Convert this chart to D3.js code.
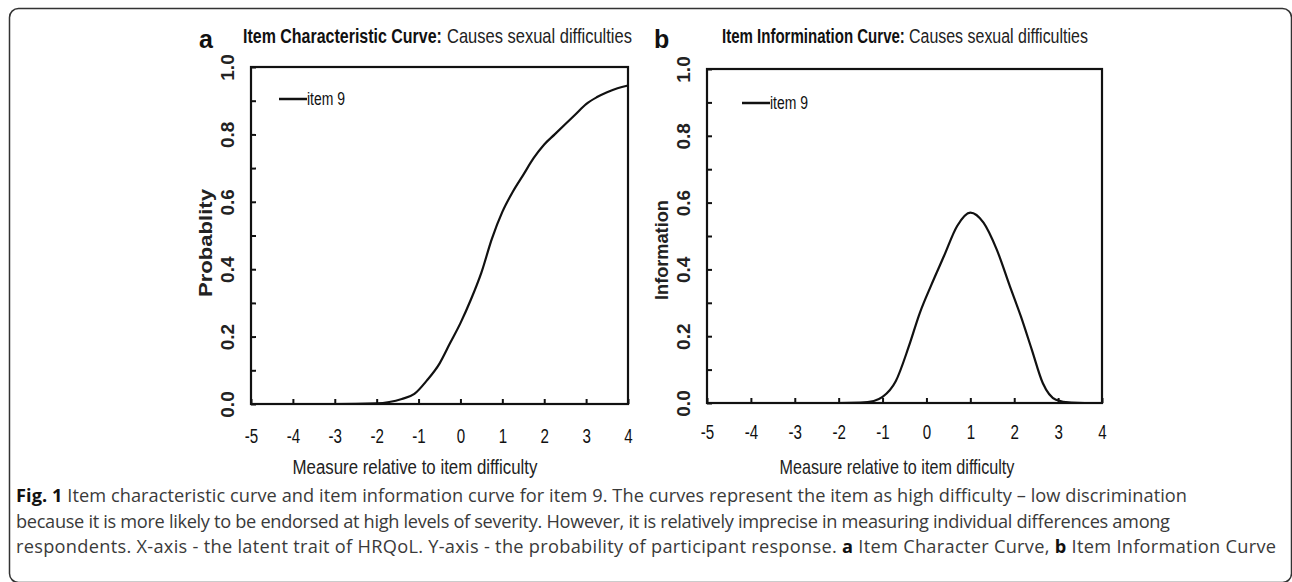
<!DOCTYPE html>
<html>
<head>
<meta charset="utf-8">
<script src="https://cdn.jsdelivr.net/npm/d3@7"></script>
<style>
  body { margin: 0; background: #fff; }
  svg { display: block; }
</style>
</head>
<body>
<svg id="fig" width="1292" height="582"></svg>
<script>
// values
const xTicks = [-5, -4, -3, -2, -1, 0, 1, 2, 3, 4];
const yTicks = [0, 0.1, 0.2, 0.3, 0.4, 0.5, 0.6, 0.7, 0.8, 0.9, 1.0];
const yLabels = [0, 0.2, 0.4, 0.6, 0.8, 1.0];

const iccTheta = [-5, -4, -3, -2, -1.7, -1.4, -1.1, -0.8, -0.5, -0.25, 0, 0.25, 0.5, 0.75, 1, 1.25, 1.5, 1.75, 2, 2.25, 2.5, 2.75, 3, 3.25, 3.5, 3.75, 4];
const iccProb = [0, 0, 0, 0.002, 0.006, 0.015, 0.03, 0.07, 0.12, 0.18, 0.24, 0.31, 0.39, 0.49, 0.57, 0.63, 0.68, 0.73, 0.77, 0.8, 0.83, 0.86, 0.89, 0.91, 0.925, 0.937, 0.945];

const iicTheta = [-5, -4, -3, -2, -1.5, -1.2, -1, -0.7, -0.4, -0.15, 0.1, 0.4, 0.7, 1, 1.3, 1.6, 1.9, 2.15, 2.4, 2.65, 2.95, 3.3, 3.6, 4];
const iicInfo = [0, 0, 0, 0, 0.001, 0.006, 0.018, 0.065, 0.17, 0.27, 0.35, 0.44, 0.53, 0.57, 0.54, 0.46, 0.35, 0.26, 0.16, 0.06, 0.01, 0.001, 0, 0];

const seriesName = "item 9";
const xTitle = "Measure relative to item difficulty";

const SANS = "Liberation Sans, Arial, sans-serif";
const svg = d3.select("#fig");

// outer rounded frame
svg.append("rect")
  .attr("x", 9.5).attr("y", 8.5)
  .attr("width", 1282).attr("height", 574)
  .attr("rx", 9)
  .attr("fill", "none")
  .attr("stroke", "#333")
  .attr("stroke-width", 1.5);

// the original uses a narrow face: draw normal text, then squeeze it to the wanted width
const narrowText = (g, x0, x1, y, size, bold, str, rot) => {
  const t = g.append("text")
    .attr("font-family", SANS)
    .attr("font-size", size)
    .attr("font-weight", bold ? "bold" : null)
    .attr("fill", bold ? "#111" : "#222")
    .text(str);
  const k = (x1 - x0) / t.node().getComputedTextLength();
  if (rot) {
    // vertical text: x0..x1 run along the page bottom -> top, y is the baseline x
    t.attr("transform", `translate(${y},${x1}) rotate(-90) scale(${k},1)`);
  } else {
    t.attr("transform", `translate(${x0},${y}) scale(${k},1)`);
  }
  return t;
};

const drawPanel = (cfg) => {
  const x = d3.scaleLinear().domain([-5, 4]).range([cfg.left, cfg.right]);
  const y = d3.scaleLinear().domain([0, 1]).range([cfg.bottom, cfg.top]);
  const g = svg.append("g");

  // x axis, ticks pointing inward
  const xAxis = g.append("g")
    .attr("transform", `translate(0,${cfg.bottom})`)
    .call(d3.axisBottom(x).tickValues(xTicks).tickSize(-5).tickSizeOuter(0).tickPadding(cfg.xPad)
      .tickFormat(d => String(d)));
  xAxis.select(".domain").remove();
  xAxis.selectAll("line").attr("stroke", "#111").attr("stroke-width", 2);
  xAxis.selectAll("text")
    .attr("font-family", SANS)
    .attr("font-size", 21)
    .attr("fill", "#111")
    .attr("dy", "0.71em")
    .attr("transform", "scale(0.72,1)");

  // y axis, minor ticks every 0.1, labels rotated
  const yAxis = g.append("g")
    .attr("transform", `translate(${cfg.left},0)`)
    .call(d3.axisLeft(y).tickValues(yTicks).tickSize(-5).tickSizeOuter(0)
      .tickFormat(d => yLabels.some(v => Math.abs(v - d) < 1e-6) ? d3.format(".1f")(d) : ""));
  yAxis.select(".domain").remove();
  yAxis.selectAll("line").attr("stroke", "#111").attr("stroke-width", 2);
  yAxis.selectAll("text")
    .attr("transform", "rotate(-90)")
    .attr("x", 0)
    .attr("y", -17)
    .attr("dy", 0)
    .attr("text-anchor", "middle")
    .attr("font-family", SANS)
    .attr("font-weight", "bold")
    .attr("font-size", 19)
    .attr("fill", "#222");

  // plot box
  g.append("rect")
    .attr("x", cfg.left).attr("y", cfg.top)
    .attr("width", cfg.right - cfg.left).attr("height", cfg.bottom - cfg.top)
    .attr("fill", "none")
    .attr("stroke", "#111")
    .attr("stroke-width", 2.2);

  // curve
  const line = d3.line()
    .x((d, i) => x(cfg.xs[i]))
    .y(d => y(d))
    .curve(d3.curveMonotoneX);
  g.append("path")
    .datum(cfg.ys)
    .attr("d", line)
    .attr("fill", "none")
    .attr("stroke", "#111")
    .attr("stroke-width", 2.2);

  // legend
  g.append("line")
    .attr("x1", cfg.legX).attr("x2", cfg.legX + 28)
    .attr("y1", cfg.legY).attr("y2", cfg.legY)
    .attr("stroke", "#111").attr("stroke-width", 2.5);
  narrowText(g, cfg.legX + 28, cfg.legX + 66, cfg.legY + 6, 18, false, seriesName).attr("fill", "#111");

  // panel letter
  g.append("text")
    .attr("x", cfg.letterX).attr("y", 48)
    .attr("font-family", SANS)
    .attr("font-weight", "bold")
    .attr("font-size", 25)
    .attr("fill", "#111")
    .text(cfg.letter);

  // title, bold part then regular part
  narrowText(g, cfg.titleX[0], cfg.titleX[1], 43, 21, true, cfg.titleBold);
  narrowText(g, cfg.titleX[2], cfg.titleX[3], 43, 21, false, cfg.titleRest);

  // axis titles
  narrowText(g, cfg.xTitleX - cfg.xTitleW / 2, cfg.xTitleX + cfg.xTitleW / 2, 474, 20, false, xTitle);
  narrowText(g, cfg.yTitleY - cfg.yTitleW / 2, cfg.yTitleY + cfg.yTitleW / 2, cfg.yTitleX, 19, true, cfg.yTitle, true)
    .attr("fill", "#222");
};

drawPanel({
  left: 251, right: 628, top: 67, bottom: 404,
  xs: iccTheta, ys: iccProb, xPad: 24,
  legX: 279, legY: 99,
  letter: "a", letterX: 199,
  titleX: [243, 442, 447, 632], titleBold: "Item Characteristic Curve:", titleRest: "Causes sexual difficulties",
  xTitleX: 415, xTitleW: 245,
  yTitle: "Probablity", yTitleX: 212, yTitleY: 243, yTitleW: 108
});

drawPanel({
  left: 707, right: 1102, top: 69, bottom: 403,
  xs: iicTheta, ys: iicInfo, xPad: 21,
  legX: 742, legY: 103,
  letter: "b", letterX: 654,
  titleX: [722, 905, 909, 1088], titleBold: "Item Informination Curve:", titleRest: "Causes sexual difficulties",
  xTitleX: 897, xTitleW: 235,
  yTitle: "Information", yTitleX: 668, yTitleY: 250, yTitleW: 100
});

// caption
const capLines = [
  [["b", "Fig. 1"], ["n", " Item characteristic curve and item information curve for item 9. The curves represent the item as high difficulty \u2013 low discrimination"]],
  [["n", "because it is more likely to be endorsed at high levels of severity. However, it is relatively imprecise in measuring individual differences among"]],
  [["n", "respondents. X-axis - the latent trait of HRQoL. Y-axis - the probability of participant response. "], ["b", "a"], ["n", " Item Character Curve, "], ["b", "b"], ["n", " Item Information Curve"]]
];
const capBase = [502, 527.5, 553];
const capWidth = [1171, 1154, 1260];

capLines.forEach((parts, i) => {
  const t = svg.append("text")
    .attr("x", 16).attr("y", capBase[i])
    .attr("font-family", "Open Sans, sans-serif")
    .attr("font-size", 18.2)
    .attr("fill", "#3a3a3a")
    .attr("textLength", capWidth[i])
    .attr("lengthAdjust", "spacing");
  parts.forEach(p => {
    t.append("tspan")
      .attr("font-weight", p[0] === "b" ? "bold" : null)
      .attr("fill", p[0] === "b" ? "#111" : null)
      .text(p[1]);
  });
});
</script>
</body>
</html>
